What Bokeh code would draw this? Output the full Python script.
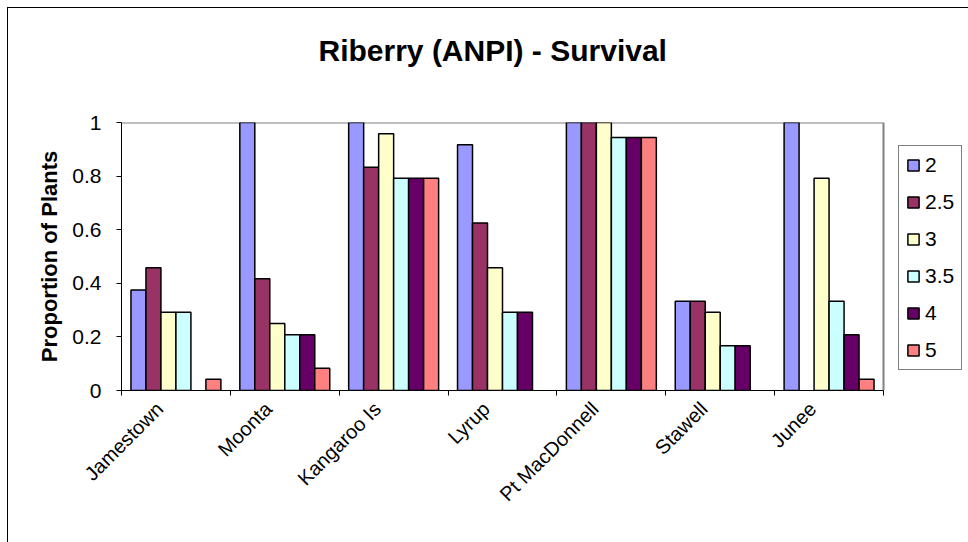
import math
from bokeh.plotting import figure
from bokeh.models import Range1d, FixedTicker, Legend, LegendItem, ColumnDataSource
from bokeh.embed import file_html
from bokeh.resources import INLINE

# ---- data ----
sites = ["Jamestown", "Moonta", "Kangaroo Is", "Lyrup", "Pt MacDonnell", "Stawell", "Junee"]
series_names = ["2", "2.5", "3", "3.5", "4", "5"]
s_2 = [0.375, 1.0, 1.0, 0.9167, 1.0, 0.3333, 1.0]
s_2_5 = [0.4583, 0.4167, 0.8333, 0.625, 1.0, 0.3333, 0.0]
s_3 = [0.2917, 0.25, 0.9583, 0.4583, 1.0, 0.2917, 0.7917]
s_3_5 = [0.2917, 0.2083, 0.7917, 0.2917, 0.9444, 0.1667, 0.3333]
s_4 = [0.0, 0.2083, 0.7917, 0.2917, 0.9444, 0.1667, 0.2083]
s_5 = [0.0417, 0.0833, 0.7917, 0.0, 0.9444, 0.0, 0.0417]
colors = ["#9999FF", "#993366", "#FFFFCC", "#CCFFFF", "#660066", "#FF8080"]
y_ticks = [0, 0.2, 0.4, 0.6, 0.8, 1]
y_tick_labels = ["0", "0.2", "0.4", "0.6", "0.8", "1"]
title_text = "Riberry (ANPI) - Survival"
y_title = "Proportion of Plants"

all_series = [s_2, s_2_5, s_3, s_3_5, s_4, s_5]
n = len(sites)

FONT = "Liberation Sans"
W, H = 968, 542
FL, FR, FT, FB = 121, 883, 122, 390          # plot-area edges in pixels
x_end = n * (W - FL) / (FR - FL)             # frame runs to the right edge; legend sits in it

p = figure(width=W, height=H,
           x_range=Range1d(0, x_end), y_range=Range1d(0, 1),
           output_backend="svg", toolbar_location=None,
           min_border_left=FL, min_border_right=0,
           min_border_top=FT, min_border_bottom=H - FB)
# outer chart-area border: left and top edges drawn as a CSS background on the host
p.border_fill_color = None
p.styles = {
    "background": ("linear-gradient(#000,#000) 7px 7px / 1px 100% no-repeat, "
                   "linear-gradient(#000,#000) 7px 7px / 100% 1px no-repeat, #ffffff"),
}
p.background_fill_color = "white"
p.outline_line_color = None
p.xgrid.visible = False
p.ygrid.visible = False

# plot-area outline (top and right, gray)
p.segment(x0=[0, n], y0=[1, 0], x1=[n, n], y1=[1, 1], line_color="#808080", line_width=2)

# title (trailing empty line lifts the visible line above the frame)
p.title.text = title_text + "\n"
p.title.align = "left"
p.title.text_font = FONT
p.title.text_font_size = "30px"
p.title.text_font_style = "bold"
p.title.text_color = "black"
p.title.standoff = 45
p.title.offset = 197

# bars
bw = 0.1377
renderers = []
for j, (name, vals, col) in enumerate(zip(series_names, all_series, colors)):
    xs, tops = [], []
    for i, v in enumerate(vals):
        if v > 0:
            xs.append(i + 0.5 + (j - 2.5) * bw)
            tops.append(v)
    src = ColumnDataSource(dict(x=xs, top=tops))
    r = p.vbar(x="x", top="top", bottom=0, width=bw, source=src,
               fill_color=col, line_color="black", line_width=1.5)
    renderers.append(r)

# x axis
xa = p.xaxis[0]
xa.bounds = (0, n)
label_pos = [i + 0.5 - 0.15 for i in range(n)]
xa.ticker = FixedTicker(ticks=label_pos, minor_ticks=list(range(n + 1)))
xa.major_label_overrides = {lp: s for lp, s in zip(label_pos, sites)}
xa.major_tick_out = 0
xa.major_tick_in = 0
xa.minor_tick_out = 5
xa.minor_tick_in = 0
xa.minor_tick_line_color = "black"
xa.axis_line_color = "black"
xa.major_label_orientation = math.pi / 4
xa.major_label_text_font = FONT
xa.major_label_text_font_size = "20px"
xa.major_label_text_color = "black"
xa.major_label_standoff = 10

# y axis
ya = p.yaxis[0]
ya.ticker = FixedTicker(ticks=y_ticks)
ya.major_label_overrides = dict(zip(y_ticks, y_tick_labels))
ya.major_tick_out = 5
ya.major_tick_in = 0
ya.minor_tick_out = 0
ya.minor_tick_in = 0
ya.axis_line_color = "black"
ya.major_tick_line_color = "black"
ya.major_label_text_font = FONT
ya.major_label_text_font_size = "21px"
ya.major_label_text_color = "black"
ya.major_label_standoff = 15
ya.axis_label = y_title
ya.axis_label_text_font = FONT
ya.axis_label_text_font_size = "22px"
ya.axis_label_text_font_style = "bold"
ya.axis_label_text_color = "black"
ya.axis_label_standoff = 7

# legend
legend = Legend(items=[LegendItem(label=s, renderers=[r]) for s, r in zip(series_names, renderers)],
                location=(777, 20))
legend.border_line_color = "black"
legend.border_line_width = 1
legend.background_fill_color = "white"
legend.padding = 7
legend.spacing = 13
legend.glyph_width = 14
legend.glyph_height = 14
legend.label_height = 24
legend.label_standoff = 5
legend.label_text_font = FONT
legend.label_text_font_size = "21px"
legend.label_text_color = "black"
legend.margin = 0
p.add_layout(legend, "center")

open("out.html", "w").write(file_html(p, INLINE))
